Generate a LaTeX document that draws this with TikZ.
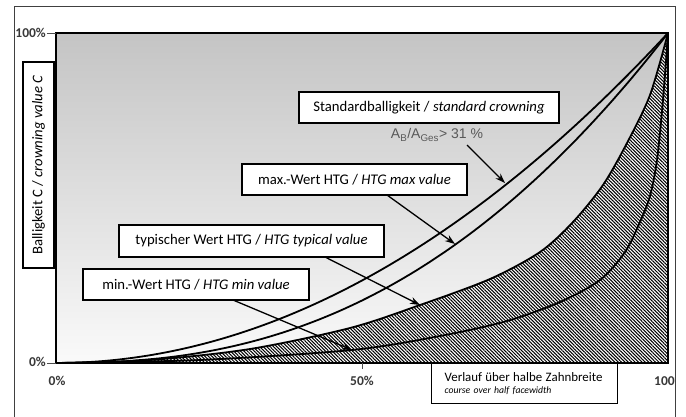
\documentclass[tikz,border=0pt]{standalone}
\usepackage{fontspec}
\setmainfont{Carlito}
\newfontfamily\arialfont{Liberation Sans}
\usetikzlibrary{patterns.meta,arrows.meta}
\begin{document}
\begin{tikzpicture}[x=1pt,y=-1pt,
  lbl/.style={draw=black,line width=1.3pt,fill=white,minimum height=31pt,inner sep=0pt,font=\fontsize{14.7}{16}\selectfont},
  curve/.style={line width=1.8pt,black},
  arr/.style={line width=1.3pt,-{Stealth[length=10pt,width=7pt]}},
  axlbl/.style={font=\bfseries\fontsize{13.5}{14}\selectfont,text=black!78,inner sep=0pt},
  tick/.style={line width=0.8pt,black!70}]
\useasboundingbox (0,0) rectangle (686,416);
% outer frame
\draw[black!75,line width=0.8pt] (14,417) -- (14,6) -- (675,6) -- (675,417);
% plot background
\shade[top color=black!23,middle color=black!11,bottom color=black!2] (56,33) rectangle (668,363);
% hatched region
\path[fill=white] plot[smooth] coordinates {(56,363) (150,360) (250,349) (350,328) (420,305) (490,279) (540,252) (573,222) (603,185) (627,143) (650,95) (668,33)} -- (668,363) -- cycle;
\path[pattern={Lines[angle=-45,distance=2.4pt,line width=1.05pt]},pattern color=black] plot[smooth] coordinates {(56,363) (150,360) (250,349) (350,328) (420,305) (490,279) (540,252) (573,222) (603,185) (627,143) (650,95) (668,33)} -- (668,363) -- cycle;
% curves
\draw[curve] (56,363) -- plot[domain=0.01:1,samples=100] ({56+612*\x},{363-330*\x*\x});
\draw[curve] (56,363) -- plot[domain=0.01:1,samples=100] ({56+612*\x},{363-330*exp(2.4*ln(\x))});
\draw[curve] plot[smooth] coordinates {(56,363) (150,360) (250,349) (350,328) (420,305) (490,279) (540,252) (573,222) (603,185) (627,143) (650,95) (668,33)};
\draw[curve] plot[smooth] coordinates {(56,363) (200,360) (352,350) (440,336) (507,321) (560,302) (600,280) (625,252) (640,222) (650,196) (657,160) (663,100) (668,33)};
% plot border
\draw[line width=1.8pt] (56,33) rectangle (668,363);
% ticks and axis labels
\draw[tick] (47,33) -- (56,33);
\draw[tick] (47,363) -- (56,363);
\draw[tick] (362,363) -- (362,369);
\node[axlbl,anchor=east] (y100) at (46,33) {100\%};
\node[axlbl,anchor=east] (y0) at (46,362) {0\%};
\node[axlbl] (x0) at (57,381) {0\%};
\node[axlbl] (x50) at (362,381) {50\%};
\begin{scope}
\clip (0,0) rectangle (674.6,416);
\node[axlbl,anchor=west] (x100) at (654,381) {100\%};
\end{scope}
% label boxes
\node[lbl,minimum width=260pt] (std) at (429,107.5) {Standardballigkeit / \textit{standard crowning}};
\node[lbl,minimum width=225pt] (mx) at (354.5,179.5) {max.-Wert HTG / \textit{HTG max value}};
\node[lbl,minimum width=265pt,minimum height=32pt] (typ) at (251.5,241) {typischer Wert HTG / \textit{HTG typical value}};
\node[lbl,minimum width=226pt] (mn) at (196,284.5) {min.-Wert HTG / \textit{HTG min value}};
\node[lbl,minimum width=206pt,rotate=90] (ylab) at (38.5,165) {Balligkeit C / \textit{crowning value C}};
\node[draw=black,line width=1.3pt,fill=white,anchor=north west,minimum width=186pt,minimum height=40pt,
      text width=160pt,inner xsep=13pt,inner ysep=4pt,align=left] (verl) at (431,363)
      {\fontsize{12.9}{13}\selectfont Verlauf über halbe Zahnbreite\\
       \fontsize{9.7}{10}\selectfont\itshape course over half facewidth};
\node[font=\arialfont\fontsize{14}{15}\selectfont,text=black!65,inner sep=0pt] (ab) at (437,135)
      {A\textsubscript{B}/A\textsubscript{Ges}> 31 \%};
% arrows
\coordinate (s1) at (467,145); \coordinate (t1) at (505,183);
\coordinate (s2) at (387,195); \coordinate (t2) at (455,244);
\coordinate (s3) at (325,257); \coordinate (t3) at (420,305);
\coordinate (s4) at (233,300); \coordinate (t4) at (352,350);
\draw[arr] (s1) -- (t1);
\draw[arr] (s2) -- (t2);
\draw[arr] (s3) -- (t3);
\draw[arr] (s4) -- (t4);
\end{tikzpicture}
\end{document}
